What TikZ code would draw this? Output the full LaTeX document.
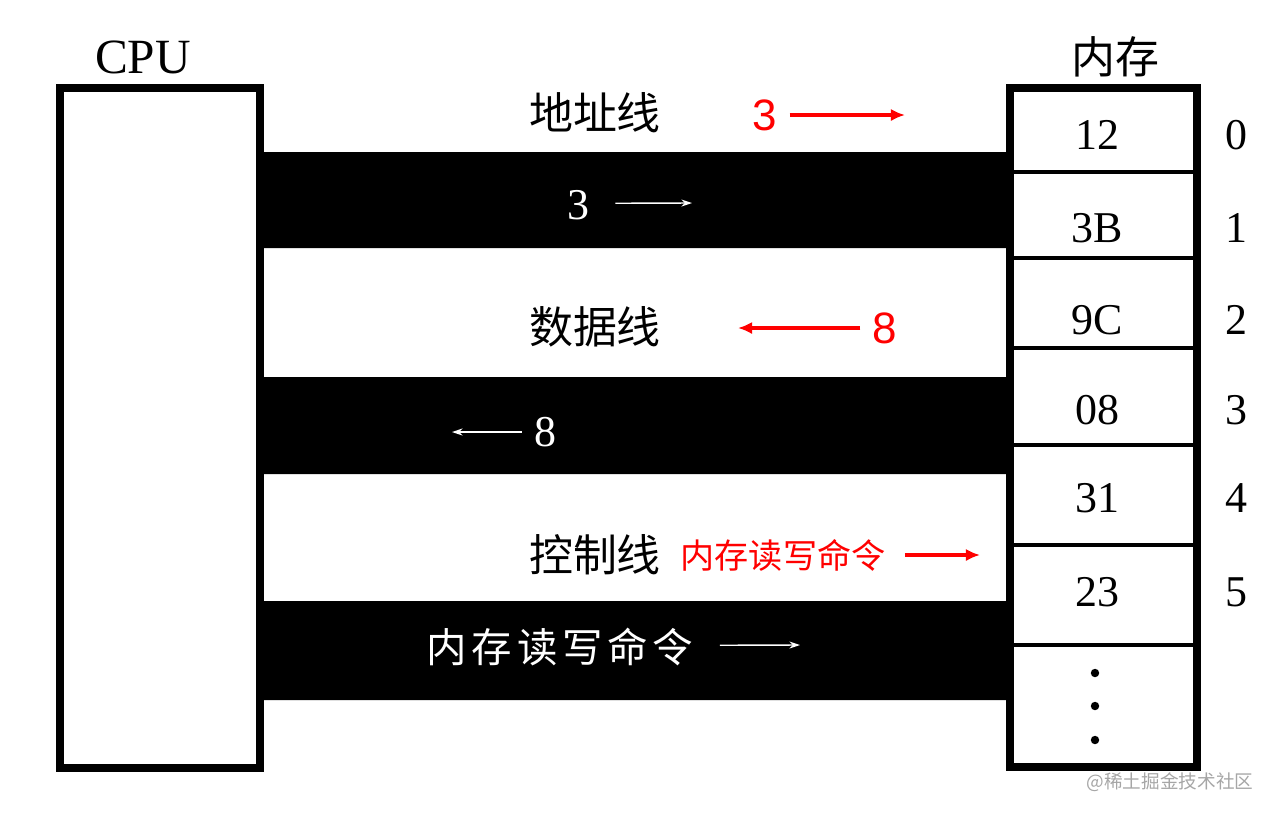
\documentclass[tikz,border=0pt]{standalone}
\usepackage{fontspec}
\setmainfont{Liberation Serif}
\newfontfamily\cjk{Noto Sans CJK SC}
\newfontfamily\cjkwide[LetterSpace=12]{Noto Sans CJK SC}
\newfontfamily\redsans{Liberation Sans}
\usetikzlibrary{arrows.meta}

\begin{document}
\begin{tikzpicture}[x=0.01cm,y=-0.01cm,
  box/.style={line width=2pt},
  bus/.style={fill=black},
  cell/.style={font=\fontsize{12.5}{12.5}\selectfont},
  tag/.style={font=\cjk\fontsize{12.5}{12.5}\selectfont},
  redtag/.style={red,font=\redsans\fontsize{12.5}{12.5}\selectfont},
  redarr/.style={red,line width=1pt,-{Latex[length=4pt,width=3.5pt]}},
  whitearr/.style={white,line width=0.4pt,-{Stealth[length=3pt,width=2pt]}}]
\useasboundingbox (0,0) rectangle (1272,814);
% CPU
\draw[box] (60,88) rectangle (260,768);
\node[font=\fontsize{14}{14}\selectfont] (cpu) at (143,57) {CPU};
% buses
\fill[bus] (262,152) rectangle (1008,248) (262,377) rectangle (1008,474) (262,601) rectangle (1008,700);
\node[tag] (addr) at (595,113) {地址线};
\node[tag] (data) at (595,327) {数据线};
\node[tag] (ctrl) at (595,555) {控制线};
% memory
\node[tag] (mem) at (1115,57) {内存};
\draw[box] (1010,88) rectangle (1197,767);
\foreach \y in {172,258,348,445,545,645}{\draw[line width=1.4pt] (1010,\y)--(1197,\y);}
\foreach \v/\y [count=\i from 0] in {12/135,3B/228,9C/320,08/410,31/498,23/592}{
  \node[cell] (cell\i) at (1097,\y) {\v};
  \node[cell] (num\i) at (1236,\y) {\i};}
\foreach \y in {673,706,740}{\fill (1095,\y) circle (1.2pt);}
% red notes
\node[redtag] (r3) at (765,115) {3};
\coordinate (r3end) at (905,115);
\draw[redarr] (r3.east) -- (r3end);
\node[redtag] (r8) at (885,328) {8};
\coordinate (r8end) at (738,328);
\draw[redarr] (r8.west) -- (r8end);
\node[red,font=\cjk\fontsize{9.7}{9.7}\selectfont] (rcmd) at (783,555) {内存读写命令};
\coordinate (rcmdend) at (980,555);
\draw[redarr] ([xshift=2pt]rcmd.east) -- (rcmdend);
% white notes
\node[white,cell] (w3) at (578,205) {3};
\coordinate (w3end) at (692,203);
\draw[whitearr] ([xshift=4pt,yshift=0.5pt]w3.east) -- (w3end);
\node[white,cell] (w8) at (545,432) {8};
\coordinate (w8end) at (452,432);
\draw[whitearr] (w8.west) -- (w8end);
\node[white,font=\cjkwide\fontsize{11.5}{11.5}\selectfont] (wcmd) at (560,647) {内存读写命令};
\coordinate (wcmdend) at (800,645);
\draw[whitearr] ([xshift=4pt,yshift=0.5pt]wcmd.east) -- (wcmdend);
\node[gray!70,font=\cjk\fontsize{5.3}{5.3}\selectfont] (mark) at (1170,782) {@稀土掘金技术社区};
\end{tikzpicture}
\end{document}
